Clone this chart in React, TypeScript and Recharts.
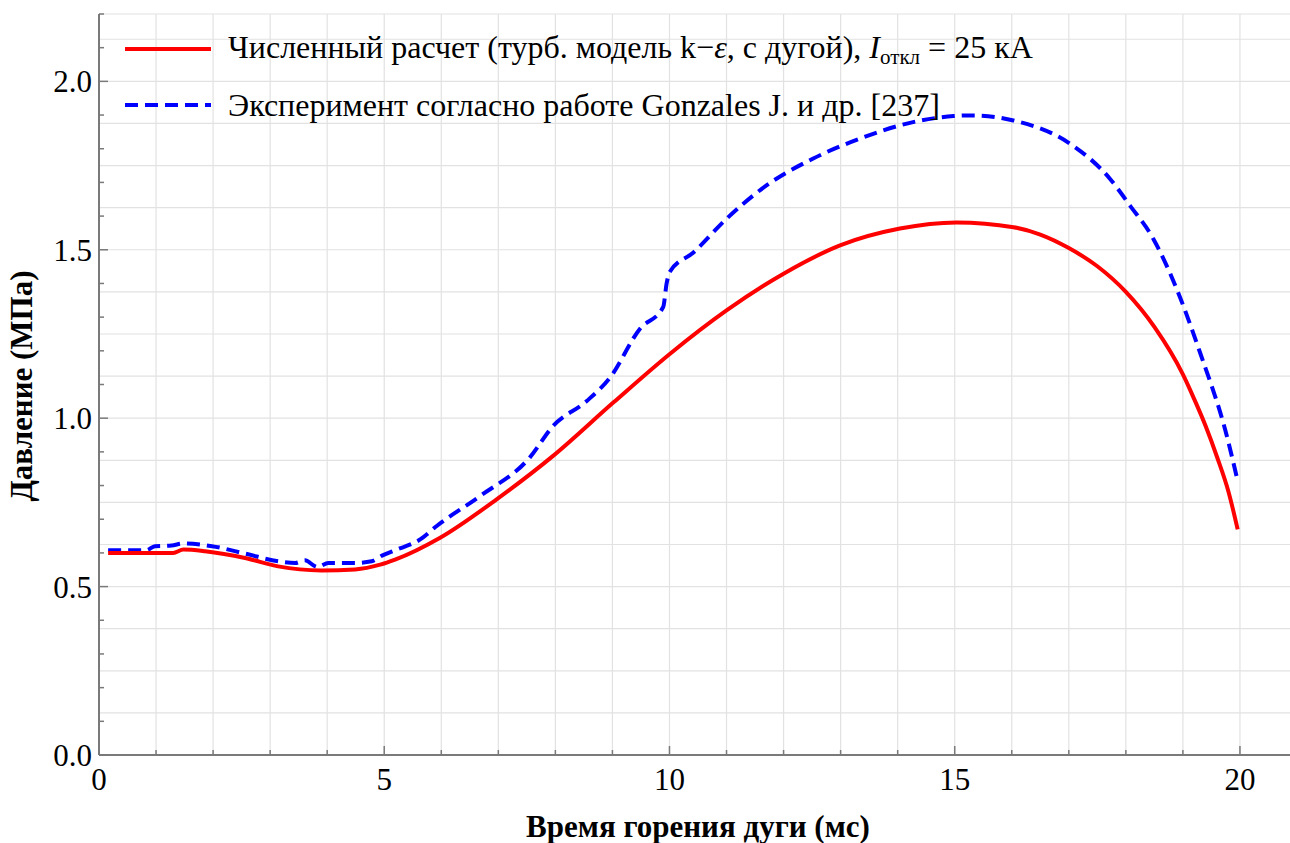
import { LineChart, Line, XAxis, YAxis, CartesianGrid, Legend } from 'recharts'

const FONT = '"Liberation Serif", "Times New Roman", serif'
const AXIS_COLOR = '#7a7a7a'
const GRID_COLOR = '#e2e2e2'

// численный расчёт (k-ε, с дугой)
const timeCalc = [0.16, 1.3, 1.48, 1.86, 2.56, 3.14, 3.9, 4.49, 4.93, 5.19, 5.98, 6.97, 7.96, 9.02, 10.0, 11.0, 12.0, 12.99, 14.04, 15.03, 16.03, 16.5, 17.0, 17.5, 18.0, 18.5, 19.0, 19.2, 19.4, 19.6, 19.8, 19.96]
const pressureCalc = [0.6, 0.6, 0.61, 0.605, 0.585, 0.56, 0.548, 0.551, 0.565, 0.58, 0.645, 0.759, 0.888, 1.047, 1.19, 1.32, 1.429, 1.513, 1.563, 1.581, 1.567, 1.545, 1.505, 1.451, 1.375, 1.271, 1.13, 1.056, 0.976, 0.884, 0.781, 0.67]

// эксперимент Gonzales J. и др.
const timeExp = [0.16, 0.83, 0.98, 1.27, 1.48, 1.98, 2.56, 3.14, 3.44, 3.61, 3.83, 4.02, 4.49, 4.78, 4.96, 5.19, 5.63, 5.92, 6.68, 7.55, 7.96, 8.55, 8.96, 9.48, 9.89, 9.95, 10.0, 10.42, 11.0, 11.7, 12.52, 13.34, 14.27, 14.98, 15.3, 16.03, 17.02, 17.72, 18.07, 18.48, 18.89, 19.3, 19.77, 19.94]
const pressureExp = [0.608, 0.608, 0.62, 0.622, 0.628, 0.62, 0.598, 0.575, 0.57, 0.578, 0.558, 0.57, 0.57, 0.575, 0.592, 0.608, 0.64, 0.68, 0.769, 0.883, 0.977, 1.051, 1.121, 1.265, 1.33, 1.4, 1.433, 1.492, 1.592, 1.691, 1.771, 1.83, 1.879, 1.897, 1.899, 1.884, 1.815, 1.711, 1.632, 1.533, 1.384, 1.195, 0.947, 0.828]

const xMajor = [0, 5, 10, 15, 20]
const yMajor = [0, 0.5, 1, 1.5, 2]
const xTicks = Array.from({ length: 22 }, (_, i) => i)
const yTicks = Array.from({ length: 23 }, (_, i) => +(i * 0.1).toFixed(1))
const yGrid = Array.from({ length: 18 }, (_, i) => i * 0.125)

const calcData = timeCalc.map((t, i) => ({ t, p: pressureCalc[i] }))
const expData = timeExp.map((t, i) => ({ t, p: pressureExp[i] }))

const isMajor = (v: number, majors: number[]) => majors.some((m) => Math.abs(m - v) < 1e-6)

const textStyle = { fontFamily: FONT, fontSize: 31, fill: '#000' }
const titleStyle = { fontFamily: FONT, fontSize: 31, fontWeight: 700, fill: '#000' }

const BottomTick = ({ x, y, payload }: any) => {
  const major = isMajor(payload.value, xMajor)
  return (
    <g>
      <line x1={x} x2={x} y1={y} y2={y - (major ? 9 : 5)} stroke={AXIS_COLOR} strokeWidth={1.5} />
      {major && (
        <text x={x} y={y + 35} textAnchor="middle" style={textStyle}>
          {payload.value}
        </text>
      )}
    </g>
  )
}

const TopTick = ({ x, y, payload }: any) => {
  const major = isMajor(payload.value, xMajor)
  return <line x1={x} x2={x} y1={y} y2={y + (major ? 9 : 5)} stroke={AXIS_COLOR} strokeWidth={1.5} />
}

const LeftTick = ({ x, y, payload }: any) => {
  const major = isMajor(payload.value, yMajor)
  return (
    <g>
      <line x1={x} x2={x + (major ? 9 : 5)} y1={y} y2={y} stroke={AXIS_COLOR} strokeWidth={1.5} />
      {major && (
        <text x={x - 7} y={y + 11} textAnchor="end" style={textStyle}>
          {payload.value.toFixed(1)}
        </text>
      )}
    </g>
  )
}

const RightTick = ({ x, y, payload }: any) => {
  const major = isMajor(payload.value, yMajor)
  return <line x1={x} x2={x - (major ? 9 : 5)} y1={y} y2={y} stroke={AXIS_COLOR} strokeWidth={1.5} />
}

const LegendBox = () => {
  const row = { display: 'flex', alignItems: 'center', height: 56 }
  return (
    <div style={{ fontFamily: FONT, fontSize: 32, color: '#000', lineHeight: 1 }}>
      <div style={row}>
        <svg width={86} height={10}>
          <line x1={0} x2={86} y1={5} y2={5} stroke="#ff0000" strokeWidth={4} />
        </svg>
        <span style={{ marginLeft: 17, whiteSpace: 'nowrap' }}>
          Численный расчет (турб. модель k−<i>ε</i>, с дугой), <i>I</i>
          <sub style={{ fontSize: 21, verticalAlign: -6 }}>откл</sub> = 25 кА
        </span>
      </div>
      <div style={row}>
        <svg width={86} height={10}>
          <line x1={0} x2={86} y1={5} y2={5} stroke="#0000ff" strokeWidth={4} strokeDasharray="13 7" />
        </svg>
        <span style={{ marginLeft: 17, whiteSpace: 'nowrap' }}>
          Эксперимент согласно работе Gonzales J. и др. [237]
        </span>
      </div>
    </div>
  )
}

export default function App() {
  return (
    <div style={{ position: 'absolute', left: 0, top: 0, width: 1290, height: 843, overflow: 'hidden', background: '#fff' }}>
      <LineChart width={1300} height={843} margin={{ top: 14, right: 3, left: 0, bottom: 0 }}>
        <CartesianGrid xAxisId="x" yAxisId="grid" stroke={GRID_COLOR} strokeWidth={1.2} />
        <XAxis
          xAxisId="x"
          dataKey="t"
          type="number"
          domain={[0, 21]}
          ticks={xTicks}
          interval={0}
          height={88}
          tickSize={0}
          tickMargin={0}
          tickLine={false}
          tick={<BottomTick />}
          axisLine={{ stroke: AXIS_COLOR, strokeWidth: 2 }}
          allowDataOverflow
          label={{
            content: () => (
              <text x={698} y={837} textAnchor="middle" style={titleStyle}>
                Время горения дуги (мс)
              </text>
            ),
          }}
        />
        <XAxis
          xAxisId="top"
          orientation="top"
          type="number"
          domain={[0, 21]}
          ticks={xTicks}
          interval={0}
          height={0}
          tickSize={0}
          tickMargin={0}
          tickLine={false}
          tick={<TopTick />}
          axisLine={{ stroke: AXIS_COLOR, strokeWidth: 2 }}
          allowDataOverflow
        />
        <YAxis
          yAxisId="y"
          type="number"
          domain={[0, 2.2]}
          ticks={yTicks}
          interval={0}
          width={99}
          tickSize={0}
          tickMargin={0}
          tickLine={false}
          tick={<LeftTick />}
          axisLine={{ stroke: AXIS_COLOR, strokeWidth: 2 }}
          allowDataOverflow
          label={{
            content: () => (
              <text x={32} y={386} transform="rotate(-90 32 386)" textAnchor="middle" style={titleStyle}>
                Давление (МПа)
              </text>
            ),
          }}
        />
        <YAxis
          yAxisId="right"
          orientation="right"
          type="number"
          domain={[0, 2.2]}
          ticks={yTicks}
          interval={0}
          width={0}
          tickSize={0}
          tickMargin={0}
          tickLine={false}
          tick={<RightTick />}
          axisLine={{ stroke: AXIS_COLOR, strokeWidth: 2 }}
          allowDataOverflow
        />
        {/* only feeds the horizontal grid lines (every 0.125) */}
        <YAxis
          yAxisId="grid"
          orientation="right"
          width={0}
          type="number"
          domain={[0, 2.2]}
          ticks={yGrid}
          interval={0}
          hide
          allowDataOverflow
        />
        <Legend
          layout="horizontal"
          verticalAlign="middle"
          align="center"
          wrapperStyle={{ top: 21, left: 125, width: 1100 }}
          content={() => <LegendBox />}
        />
        <Line
          xAxisId="x"
          yAxisId="y"
          data={expData}
          dataKey="p"
          type="monotone"
          stroke="#0000ff"
          strokeWidth={4}
          strokeDasharray="13 7"
          dot={false}
          isAnimationActive={false}
        />
        <Line
          xAxisId="x"
          yAxisId="y"
          data={calcData}
          dataKey="p"
          type="monotone"
          stroke="#ff0000"
          strokeWidth={4}
          dot={false}
          isAnimationActive={false}
        />
      </LineChart>
    </div>
  )
}
